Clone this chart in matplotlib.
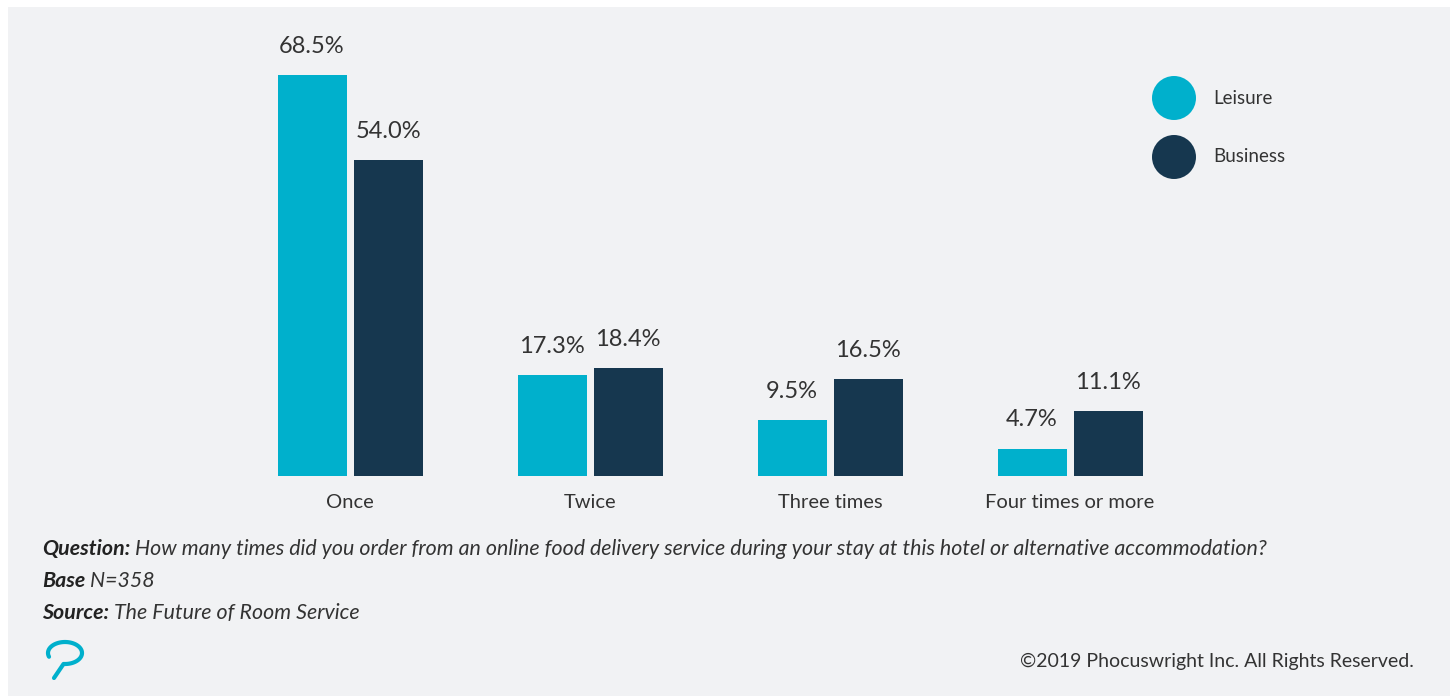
import matplotlib
matplotlib.use("Agg")
import matplotlib.pyplot as plt
import numpy as np
from matplotlib.patches import Circle, Rectangle
from matplotlib.path import Path
from matplotlib.patches import PathPatch

categories = ["Once", "Twice", "Three times", "Four times or more"]
series_names = ["Leisure", "Business"]
leisure = [68.5, 17.3, 9.5, 4.7]
business = [54.0, 18.4, 16.5, 11.1]

LEISURE_C = "#00b0cc"
BUSINESS_C = "#16374f"
BG = "#f1f2f4"
TXT = "#333333"
FONT = "Lato"

W, H = 1453, 696
fig = plt.figure(figsize=(W / 100, H / 100), dpi=100)
fig.patch.set_facecolor("white")

# light grey panel behind everything
fig.add_artist(Rectangle((8 / W, 0), (W - 11) / W, (H - 7) / H,
                         transform=fig.transFigure, facecolor=BG,
                         edgecolor="none", zorder=0))

# plot axes: baseline at y=476 px, top at y=20 px
ax_bottom = (H - 476) / H
ax_top = (H - 20) / H
ax = fig.add_axes([0, ax_bottom, 1, ax_top - ax_bottom])
ax.set_facecolor("none")
px_per_unit = 5.85
ax.set_ylim(0, (476 - 20) / px_per_unit)
step = 240.0
c0 = 350.0
ax.set_xlim(-c0 / step, (W - c0) / step)
for s in ax.spines.values():
    s.set_visible(False)
ax.set_xticks([])
ax.set_yticks([])

x = np.arange(len(categories))
bw = 69 / step
off = 38 / step
b1 = ax.bar(x - off, leisure, width=bw, color=LEISURE_C, zorder=2)
b2 = ax.bar(x + off, business, width=bw, color=BUSINESS_C, zorder=2)

for bars, vals in ((b1, leisure), (b2, business)):
    for r, v in zip(bars, vals):
        ax.annotate(f"{v:.1f}%", (r.get_x() + r.get_width() / 2, v),
                    xytext=(0, 13), textcoords="offset points",
                    ha="center", va="bottom", fontsize=17,
                    family=FONT, color=TXT)

for xi, cat in zip(x, categories):
    ax.annotate(cat, (xi, 0), xytext=(0, -13), textcoords="offset points",
                ha="center", va="top", fontsize=14.5, family=FONT, color=TXT)

# legend: circles with labels
for i, (name, col) in enumerate(zip(series_names, [LEISURE_C, BUSINESS_C])):
    cy = 98 + i * 59
    fig.add_artist(Circle((1174, H - cy), 22, transform=None,
                          facecolor=col, edgecolor="none", zorder=3))
    fig.text(1213 / W, 1 - cy / H, name, ha="left", va="center",
             fontsize=13.5, family=FONT, color=TXT)

# footnotes
notes = [("Question:", " How many times did you order from an online food delivery service during your stay at this hotel or alternative accommodation?", 549),
         ("Base", " N=358", 581),
         ("Source:", " The Future of Room Service", 613)]
renderer = fig.canvas.get_renderer()
for bold, rest, y in notes:
    t = fig.text(42 / W, 1 - y / H, bold, ha="left", va="center",
                 fontsize=15.4, family=FONT, style="italic", weight="bold",
                 color="#222222")
    bb = t.get_window_extent(renderer=renderer)
    fig.text(bb.x1 / W, 1 - y / H, rest, ha="left", va="center",
             fontsize=15.4, family=FONT, style="italic", color=TXT)

fig.text(1414 / W, 1 - 661 / H, "\u00a92019 Phocuswright Inc. All Rights Reserved.",
         ha="right", va="center", fontsize=14, family=FONT, color=TXT)

# speech-bubble logo mark
cx, cy, rx, ry = 65, H - 653, 17, 11
theta = np.linspace(np.deg2rad(200), np.deg2rad(-95), 80)
pts = [(cx + rx * np.cos(t), cy + ry * np.sin(t)) for t in theta]
tail = [(54, H - 678)]
verts = pts + tail
path = Path(verts, [Path.MOVETO] + [Path.LINETO] * (len(verts) - 1))
fig.add_artist(PathPatch(path, transform=None, facecolor="none",
                         edgecolor=LEISURE_C, lw=3, capstyle="round",
                         joinstyle="round", zorder=3))

fig.savefig("out.png", dpi=100, facecolor=fig.get_facecolor())
